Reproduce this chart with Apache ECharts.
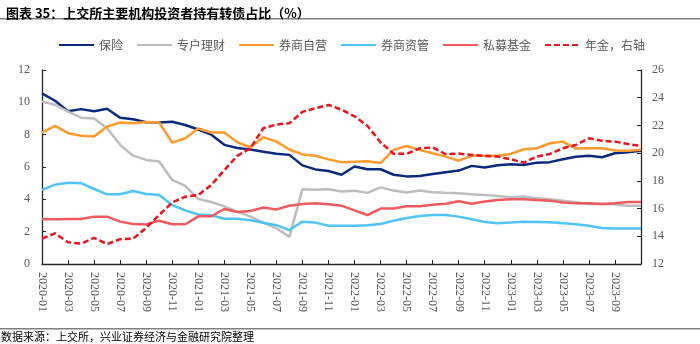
<!DOCTYPE html>
<html><head><meta charset="utf-8">
<script src="https://cdn.jsdelivr.net/npm/echarts@6/dist/echarts.min.js"></script>
<style>html,body{margin:0;padding:0;background:#fff}#c{width:700px;height:344px}</style>
</head><body><div id="c"></div>
<script>
const months = ['2020-01','2020-02','2020-03','2020-04','2020-05','2020-06','2020-07','2020-08','2020-09','2020-10','2020-11','2020-12',
'2021-01','2021-02','2021-03','2021-04','2021-05','2021-06','2021-07','2021-08','2021-09','2021-10','2021-11','2021-12',
'2022-01','2022-02','2022-03','2022-04','2022-05','2022-06','2022-07','2022-08','2022-09','2022-10','2022-11','2022-12',
'2023-01','2023-02','2023-03','2023-04','2023-05','2023-06','2023-07','2023-08','2023-09','2023-10','2023-11'];
const insurance = [10.55,10.1,9.45,9.58,9.45,9.6,9.05,8.95,8.77,8.75,8.8,8.6,8.32,8.0,7.37,7.18,7.08,6.95,6.82,6.75,6.1,5.85,5.75,5.52,6.03,5.86,5.86,5.52,5.42,5.45,5.57,5.68,5.78,6.07,5.97,6.11,6.17,6.13,6.27,6.3,6.48,6.64,6.69,6.6,6.85,6.91,7.0];
const specialAccount = [10.05,9.85,9.43,9.05,9.0,8.4,7.37,6.7,6.44,6.34,5.2,4.83,4.03,3.83,3.57,3.24,2.93,2.56,2.21,1.68,4.63,4.6,4.62,4.48,4.53,4.4,4.74,4.54,4.42,4.55,4.44,4.4,4.38,4.31,4.27,4.21,4.13,4.17,4.07,4.0,3.92,3.82,3.71,3.71,3.69,3.61,3.61];
const brokerProp = [8.13,8.54,8.09,7.93,7.88,8.5,8.75,8.71,8.79,8.75,7.51,7.78,8.38,8.13,8.13,7.53,7.22,7.84,7.57,7.08,6.78,6.7,6.47,6.3,6.32,6.36,6.24,7.06,7.3,7.06,6.85,6.64,6.39,6.69,6.69,6.69,6.81,7.1,7.16,7.47,7.57,7.14,7.16,7.16,7.02,7.0,7.06];
const brokerAM = [4.58,4.91,5.03,5.0,4.64,4.31,4.31,4.52,4.33,4.27,3.65,3.32,3.06,3.02,2.8,2.8,2.7,2.55,2.4,2.1,2.62,2.56,2.37,2.37,2.37,2.39,2.47,2.68,2.85,2.97,3.03,3.03,2.93,2.77,2.6,2.52,2.56,2.62,2.6,2.58,2.52,2.46,2.37,2.23,2.19,2.19,2.19];
const privateFund = [2.77,2.77,2.79,2.79,2.93,2.93,2.62,2.48,2.44,2.68,2.46,2.46,2.95,2.95,3.4,3.22,3.28,3.49,3.37,3.61,3.71,3.76,3.7,3.61,3.32,3.03,3.43,3.43,3.57,3.57,3.67,3.73,3.88,3.73,3.86,3.96,4.0,4.0,3.96,3.92,3.8,3.76,3.76,3.71,3.76,3.84,3.84];
const pension = [13.83,14.21,13.57,13.47,13.88,13.44,13.79,13.83,14.6,15.54,16.44,16.86,16.98,17.7,18.77,19.8,20.35,21.8,22.06,22.16,22.98,23.24,23.48,23.14,22.66,21.96,20.77,19.96,19.95,20.35,20.41,19.93,19.97,19.87,19.8,19.75,19.56,19.31,19.75,19.94,20.35,20.59,21.07,20.9,20.83,20.66,20.52];
const seriesNames = ['保险','专户理财','券商自营','券商资管','私募基金','年金，右轴'];
const leftTicks = {min:0,max:12,interval:2};
const rightTicks = {min:12,max:26,interval:2};

const cjk = '"Noto Sans CJK SC", sans-serif';
const serif = '"Liberation Serif", "Times New Roman", serif';
const chart = echarts.init(document.getElementById('c'), null, {renderer:'canvas'});
const showIdx = (i) => i % 2 === 0 && i < months.length - 1;
function line(name, data, color, yIdx, dashed){
  return {name, type:'line', data, yAxisIndex:yIdx, symbol:'none', smooth:false, z: dashed?5:3,
    lineStyle:{color, width:2.5, type: dashed ? [6,3] : 'solid'}, itemStyle:{color}};
}
chart.setOption({
  animation:false,
  title:{text:'图表 35：上交所主要机构投资者持有转债占比（%）', left:1, top:2,
    textStyle:{fontFamily:cjk, fontSize:13, fontWeight:'bold', color:'#000'}},
  graphic:[
    {type:'rect', shape:{x:0,y:18,width:700,height:1.5}, style:{fill:'#7f7f7f'}},
    {type:'rect', shape:{x:0,y:328,width:700,height:1.5}, style:{fill:'#7f7f7f'}},
    {type:'text', left:1, top:331, style:{text:'数据来源：上交所，兴业证券经济与金融研究院整理', font:'11px "Noto Sans CJK SC"', fill:'#000'}}
  ],
  legend:{top:39, left:58, itemWidth:35, itemHeight:10, itemGap:13, padding:0,
    itemStyle:{opacity:0},
    textStyle:{fontFamily:cjk, fontSize:12, color:'#595959'}, data:seriesNames},
  grid:{left:42, right:59, top:70, bottom:80, containLabel:false},
  xAxis:{type:'category', data:months, boundaryGap:false,
    axisLine:{lineStyle:{color:'#262626', width:1.3}},
    axisTick:{inside:true, length:4, interval:(i)=>showIdx(i), lineStyle:{color:'#262626'}},
    axisLabel:{rotate:-90, interval:(i)=>showIdx(i), margin:8, fontFamily:serif, fontSize:12, color:'#595959'}},
  yAxis:[
    {type:'value', min:leftTicks.min, max:leftTicks.max, interval:leftTicks.interval, splitLine:{show:false},
      axisLine:{show:true, lineStyle:{color:'#262626', width:1.3}},
      axisTick:{show:true, inside:true, length:4, lineStyle:{color:'#262626'}},
      axisLabel:{fontFamily:serif, fontSize:12, color:'#595959', margin:12}},
    {type:'value', min:rightTicks.min, max:rightTicks.max, interval:rightTicks.interval, splitLine:{show:false}, position:'right',
      axisLine:{show:true, lineStyle:{color:'#262626', width:1.3}},
      axisTick:{show:true, inside:true, length:4, lineStyle:{color:'#262626'}},
      axisLabel:{fontFamily:serif, fontSize:12, color:'#595959', margin:11}}
  ],
  series:[
    line(seriesNames[0], insurance, '#0B2A7D', 0),
    line(seriesNames[1], specialAccount, '#BDBDBD', 0),
    line(seriesNames[2], brokerProp, '#FF9A2E', 0),
    line(seriesNames[3], brokerAM, '#4FC4F5', 0),
    line(seriesNames[4], privateFund, '#EE5A5E', 0),
    line(seriesNames[5], pension, '#E8141E', 1, true)
  ]
});
</script></body></html>
